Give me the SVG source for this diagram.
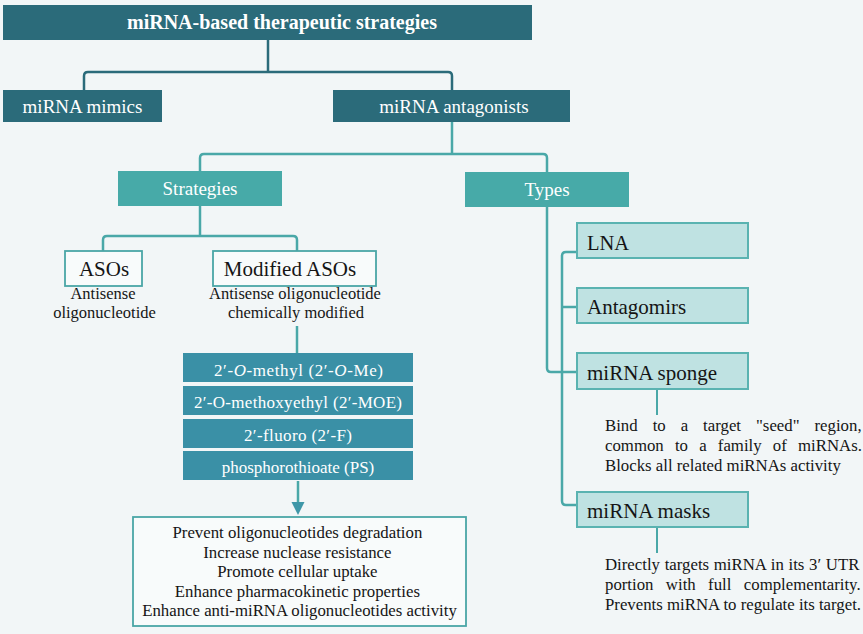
<svg xmlns="http://www.w3.org/2000/svg" width="863" height="634" viewBox="0 0 863 634">
<style>
.t{font-family:"Liberation Serif","Times New Roman",serif;}
.w{fill:#ffffff;}
.k{fill:#151515;}
.dark{fill:#2b6b7a;}
.mid{fill:#47aaa8;}
.stk{fill:#3a90a6;}
.light{fill:#bfe2e2;stroke:#5ab3b1;stroke-width:2;}
.outl{fill:#f8fbfb;stroke:#4aa6a6;stroke-width:1.8;}
.c1{fill:none;stroke:#2b6b7a;stroke-width:2.5;}
.c2{fill:none;stroke:#4aa8a8;stroke-width:2.5;}
.c3{fill:none;stroke:#4aa8a8;stroke-width:2;}
</style>
<rect x="0" y="0" width="863" height="634" fill="#f2f6f7"/>
<g id="connectors">
<path class="c1" d="M268,40 V72"/>
<path class="c1" d="M84,90 V76 Q84,72 88,72 H448 Q452,72 452,76 V90"/>
<path class="c2" d="M452,122 V154"/>
<path class="c2" d="M200,171 V158 Q200,154 204,154 H543 Q547,154 547,158 V172"/>
<path class="c2" d="M200,206 V236"/>
<path class="c2" d="M103,251 V240 Q103,236 107,236 H293 Q297,236 297,240 V251"/>
<path class="c2" d="M297,326 V353"/>
<path class="c2" d="M298,481 V504"/>
<polygon points="291.5,502 304.5,502 298,515" fill="#3f97a8"/>
<path class="c2" d="M547,207 V368 Q547,372 551,372 H577"/>
<path class="c2" d="M577,252 H566 Q562,252 562,256 V501 Q562,505 566,505 H577"/>
<path class="c2" d="M562,307 H577"/>
<path class="c3" d="M657,389 V415"/>
<path class="c3" d="M657,527 V553"/>
</g>
<g id="title">
<rect class="dark" x="3" y="5" width="529" height="35"/>
<text class="t w" x="282" y="29" font-size="20" font-weight="bold" text-anchor="middle">miRNA-based therapeutic strategies</text>
</g>
<g id="mimics">
<rect class="dark" x="3" y="90" width="159" height="32"/>
<text class="t w" x="82.5" y="113" font-size="19" text-anchor="middle">miRNA mimics</text>
</g>
<g id="antagonists">
<rect class="dark" x="333" y="90" width="237" height="32"/>
<text class="t w" x="454" y="113" font-size="19" text-anchor="middle">miRNA antagonists</text>
</g>
<g id="strategies">
<rect class="mid" x="118" y="171" width="164" height="35"/>
<text class="t w" x="200" y="195" font-size="19" text-anchor="middle">Strategies</text>
</g>
<g id="types">
<rect class="mid" x="465" y="172" width="164" height="35"/>
<text class="t w" x="547" y="196" font-size="19" text-anchor="middle">Types</text>
</g>
<g id="asos">
<rect class="outl" x="65" y="251" width="77" height="35"/>
<text class="t k" x="104" y="276" font-size="21" text-anchor="middle">ASOs</text>
<text class="t k" font-size="16.5" text-anchor="middle"><tspan x="103" y="299">Antisense</tspan><tspan x="104.5" y="318">oligonucleotide</tspan></text>
</g>
<g id="modified-asos">
<rect class="outl" x="213" y="251" width="163" height="35"/>
<text class="t k" x="290" y="276" font-size="21" text-anchor="middle">Modified ASOs</text>
<text class="t k" font-size="16.5" text-anchor="middle"><tspan x="295" y="299">Antisense oligonucleotide</tspan><tspan x="296" y="318">chemically modified</tspan></text>
</g>
<g id="mod-ome">
<rect class="stk" x="183" y="353" width="230" height="29"/>
<text class="t w" x="298.5" y="376" font-size="17" text-anchor="middle" textLength="169" lengthAdjust="spacing">2′-<tspan font-style="italic">O</tspan>-methyl (2′-<tspan font-style="italic">O</tspan>-Me)</text>
</g>
<g id="mod-moe">
<rect class="stk" x="183" y="386" width="230" height="29"/>
<text class="t w" x="298" y="408" font-size="17" text-anchor="middle" textLength="208" lengthAdjust="spacing">2′-O-methoxyethyl (2′-MOE)</text>
</g>
<g id="mod-f">
<rect class="stk" x="183" y="419" width="230" height="29"/>
<text class="t w" x="298" y="441" font-size="17" text-anchor="middle" textLength="108" lengthAdjust="spacing">2′-fluoro (2′-F)</text>
</g>
<g id="mod-ps">
<rect class="stk" x="183" y="451" width="230" height="29"/>
<text class="t w" x="298" y="473" font-size="17" text-anchor="middle">phosphorothioate (PS)</text>
</g>
<g id="effects">
<rect class="outl" x="133" y="517" width="333" height="109"/>
<text class="t k" font-size="16.8" text-anchor="middle">
<tspan x="299.5" y="538">Prevent oligonucleotides degradation</tspan>
<tspan x="299.5" y="557.5">Increase nuclease resistance</tspan>
<tspan x="299.5" y="577">Promote cellular uptake</tspan>
<tspan x="299.5" y="596.5">Enhance pharmacokinetic properties</tspan>
<tspan x="299.5" y="616">Enhance anti-miRNA oligonucleotides activity</tspan>
</text>
</g>
<g id="lna">
<rect class="light" x="577" y="223" width="171" height="35"/>
<text class="t k" x="587" y="250" font-size="20.5">LNA</text>
</g>
<g id="antagomirs">
<rect class="light" x="577" y="288" width="171" height="35"/>
<text class="t k" x="587" y="314" font-size="21">Antagomirs</text>
</g>
<g id="sponge">
<rect class="light" x="577" y="353" width="171" height="36"/>
<text class="t k" x="587" y="380" font-size="21">miRNA sponge</text>
<text class="t k" font-size="16.8" x="605" y="431" word-spacing="10.8">Bind to a target "seed" region,</text>
<text class="t k" font-size="16.8" x="605" y="451" word-spacing="7">common to a family of miRNAs.</text>
<text class="t k" font-size="16.8" x="605" y="471">Blocks all related miRNAs activity</text>
</g>
<g id="masks">
<rect class="light" x="577" y="492" width="171" height="35"/>
<text class="t k" x="587" y="518" font-size="21">miRNA masks</text>
<text class="t k" font-size="16.8" x="605" y="570" word-spacing="0.5">Directly targets miRNA in its 3′ UTR</text>
<text class="t k" font-size="16.8" x="605" y="590" word-spacing="8.2">portion with full complementarity.</text>
<text class="t k" font-size="16.8" x="605" y="610">Prevents miRNA to regulate its target.</text>
</g>
</svg>
